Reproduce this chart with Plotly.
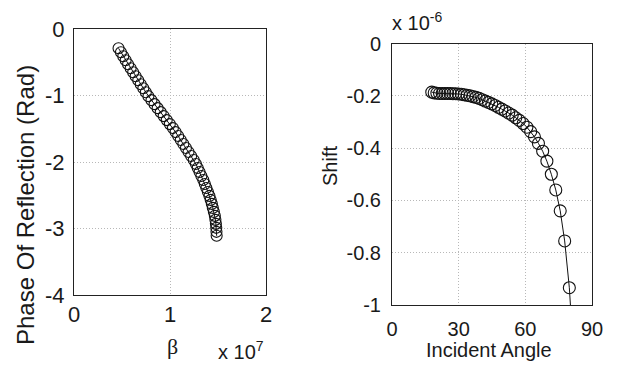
import plotly.graph_objects as go

# ---------------- data ----------------
# left panel: propagation constant beta (x 1e7) vs phase of reflection (rad)
beta = [0.464, 0.489, 0.513, 0.538, 0.563, 0.590, 0.616, 0.642, 0.669, 0.695,
        0.722, 0.748, 0.775, 0.807, 0.839, 0.871, 0.903, 0.934, 0.966, 0.998,
        1.030, 1.058, 1.085, 1.112, 1.139, 1.166, 1.193, 1.220, 1.247, 1.270,
        1.289, 1.308, 1.327, 1.347, 1.363, 1.379, 1.395, 1.411, 1.424, 1.436,
        1.446, 1.457, 1.467, 1.473, 1.478, 1.482, 1.484, 1.486]
phase = [-0.29, -0.35, -0.41, -0.47, -0.53, -0.59, -0.65, -0.71, -0.77, -0.83,
         -0.89, -0.95, -1.01, -1.07, -1.13, -1.19, -1.25, -1.31, -1.37, -1.43,
         -1.49, -1.55, -1.61, -1.67, -1.73, -1.79, -1.85, -1.91, -1.97, -2.03,
         -2.09, -2.15, -2.21, -2.27, -2.33, -2.39, -2.45, -2.51, -2.57, -2.63,
         -2.69, -2.75, -2.81, -2.87, -2.93, -2.99, -3.05, -3.11]

# right panel: incident angle (deg) vs shift (x 1e-6)
incident_angle = [17.9, 19.0, 20.2, 21.4, 22.6, 23.8, 25.0, 26.2, 27.4, 28.6,
                  29.9, 31.2, 32.5, 33.8, 35.1, 36.4, 37.8, 39.2, 40.6, 42.0,
                  43.4, 44.9, 46.4, 47.9, 49.4, 50.9, 52.5, 54.1, 55.7, 57.3,
                  59.0, 60.7, 62.4, 64.1, 65.9, 67.8, 69.7, 71.7, 73.7, 75.7,
                  77.7, 79.8]
shift = [-0.186, -0.189, -0.190, -0.191, -0.191, -0.191, -0.191, -0.191, -0.192, -0.192,
         -0.193, -0.194, -0.196, -0.198, -0.200, -0.203, -0.206, -0.210, -0.215, -0.220,
         -0.225, -0.231, -0.237, -0.244, -0.251, -0.258, -0.266, -0.274, -0.284, -0.294,
         -0.306, -0.320, -0.337, -0.357, -0.382, -0.412, -0.450, -0.500, -0.560, -0.640,
         -0.755, -0.934]
# the fitted line continues past the last marker (clipped by the axes)
line_tail_angle = [81.2]
line_tail_shift = [-1.12]

# tick labels
left_x_ticks = [0, 1, 2]
left_x_labels = ["0", "1", "2"]
left_y_ticks = [0, -1, -2, -3, -4]
left_y_labels = ["0", "-1", "-2", "-3", "-4"]
right_x_ticks = [0, 30, 60, 90]
right_x_labels = ["0", "30", "60", "90"]
right_y_ticks = [0, -0.2, -0.4, -0.6, -0.8, -1]
right_y_labels = ["0", "-0.2", "-0.4", "-0.6", "-0.8", "-1"]

# ---------------- figure ----------------
W, H = 617, 371
OFF = 8  # the page body adds an 8px margin around the figure
FONT = "Liberation Sans, Arial, sans-serif"
TXT = "#1a1a1a"
INK = "#111111"


def fx(px):
    return (px - OFF) / W


def fy(py):
    return 1 - (py - OFF) / H


fig = go.Figure()

fig.add_trace(go.Scatter(x=beta, y=phase, mode="lines", line=dict(color=INK, width=1),
                         xaxis="x", yaxis="y", showlegend=False, hoverinfo="skip"))
fig.add_trace(go.Scatter(x=beta, y=phase, mode="markers",
                         marker=dict(symbol="circle-open", size=11, color=INK,
                                     line=dict(width=1.1, color=INK)),
                         xaxis="x", yaxis="y", showlegend=False, cliponaxis=False))

fig.add_trace(go.Scatter(x=incident_angle + line_tail_angle, y=shift + line_tail_shift,
                         mode="lines", line=dict(color=INK, width=1),
                         xaxis="x2", yaxis="y2", showlegend=False, hoverinfo="skip"))
fig.add_trace(go.Scatter(x=incident_angle, y=shift, mode="markers",
                         marker=dict(symbol="circle-open", size=12, color=INK,
                                     line=dict(width=1.1, color=INK)),
                         xaxis="x2", yaxis="y2", showlegend=False, cliponaxis=False))

grid = dict(showgrid=True, gridcolor="#b8b8b8", gridwidth=1, griddash="1px,2px",
            showline=True, linecolor="#222222", linewidth=1, mirror=True,
            zeroline=False, ticks="", fixedrange=True, automargin=False)

fig.update_layout(
    width=W, height=H,
    margin=dict(l=0, r=0, t=0, b=0, autoexpand=False),
    paper_bgcolor="white", plot_bgcolor="white",
    font=dict(family=FONT, color=TXT),
    xaxis=dict(domain=[fx(74), fx(266)], range=[0, 2], tickvals=left_x_ticks,
               ticktext=left_x_labels, tickfont=dict(size=22, family=FONT, color=TXT),
               anchor="y", ticklabelstandoff=0, **grid),
    yaxis=dict(domain=[fy(295), fy(29)], range=[-4, 0], tickvals=left_y_ticks,
               ticktext=left_y_labels, tickfont=dict(size=22, family=FONT, color=TXT),
               anchor="x", ticklabelstandoff=4, **grid),
    xaxis2=dict(domain=[fx(392), fx(592)], range=[0, 90], tickvals=right_x_ticks,
                ticktext=right_x_labels, tickfont=dict(size=20, family=FONT, color=TXT),
                anchor="y2", ticklabelstandoff=6, **grid),
    yaxis2=dict(domain=[fy(305), fy(43.5)], range=[-1, 0], tickvals=right_y_ticks,
                ticktext=right_y_labels, tickfont=dict(size=20, family=FONT, color=TXT),
                anchor="x2", ticklabelstandoff=6, **grid),
)


def ann(text, px, py, size, angle=0, family=FONT, xanchor="center"):
    fig.add_annotation(text=text, x=fx(px), y=fy(py), xref="paper", yref="paper",
                       showarrow=False, textangle=angle, xanchor=xanchor, yanchor="middle",
                       font=dict(size=size, family=family, color=TXT))


ann("Phase Of Reflection (Rad)", 25, 205, 24, angle=-90)
ann("β", 172, 346, 22, family="Liberation Serif, Times New Roman, serif")
ann("x 10<sup>7</sup>", 216, 350, 20, xanchor="left")
ann("Shift", 330, 166, 20, angle=-90)
ann("Incident Angle", 489, 350, 20)
ann("x 10<sup>-6</sup>", 390, 22, 20, xanchor="left")

fig.write_html("out.html")
